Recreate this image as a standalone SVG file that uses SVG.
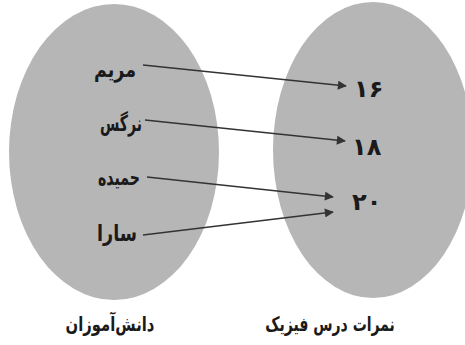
<svg xmlns="http://www.w3.org/2000/svg" width="465" height="345" viewBox="0 0 465 345">
<style>
.set{fill:#b6b6b6;}
.t{font-family:"DejaVu Sans",sans-serif;font-weight:bold;fill:#1a1a1a;font-size:22px;}
.d{font-family:"DejaVu Sans",sans-serif;font-weight:bold;fill:#1a1a1a;font-size:24px;}
.cap{font-family:"DejaVu Sans",sans-serif;font-weight:bold;fill:#1a1a1a;font-size:20px;}
.c{stroke:#333;stroke-width:1.5;fill:none;marker-end:url(#ah);}
</style>
<defs>
<marker id="ah" viewBox="0 0 10 10" refX="9" refY="5" markerWidth="10" markerHeight="9" markerUnits="userSpaceOnUse" orient="auto">
<path d="M0,0 L10,5 L0,10 z" fill="#333"/>
</marker>
</defs>
<rect width="465" height="345" fill="#ffffff"/>
<g id="set-students"><ellipse class="set" cx="114" cy="152" rx="105" ry="148"/></g>
<g id="set-grades"><ellipse class="set" cx="373" cy="150" rx="100" ry="148"/></g>
<g id="n-maryam"><text class="t" x="136" y="77" text-anchor="end" textLength="42" lengthAdjust="spacingAndGlyphs">مریم</text></g>
<g id="n-narges"><text class="t" x="142" y="131" text-anchor="end" textLength="42" lengthAdjust="spacingAndGlyphs">نرگس</text></g>
<g id="n-hamideh"><text class="t" x="140" y="185" text-anchor="end" textLength="42" lengthAdjust="spacingAndGlyphs">حمیده</text></g>
<g id="n-sara"><text class="t" x="137" y="241" text-anchor="end" textLength="40" lengthAdjust="spacingAndGlyphs">سارا</text></g>
<g id="n-16"><text class="d" x="354" y="97">۱۶</text></g>
<g id="n-18"><text class="d" x="352" y="155">۱۸</text></g>
<g id="n-20"><text class="d" x="352" y="210">۲۰</text></g>
<g id="connectors">
<line class="c" x1="143" y1="65" x2="346" y2="86"/>
<line class="c" x1="145" y1="120" x2="345" y2="141"/>
<line class="c" x1="147" y1="177" x2="333" y2="197"/>
<line class="c" x1="143" y1="235" x2="333" y2="212"/>
</g>
<g id="captions">
<g transform="translate(110,331) scale(0.74,1)"><text class="cap" x="0" y="0" text-anchor="middle">دانش‌آموزان</text></g>
<g transform="translate(330,331) scale(0.7,1)"><text class="cap" x="0" y="0" text-anchor="middle">نمرات درس فیزیک</text></g>
</g>
</svg>
